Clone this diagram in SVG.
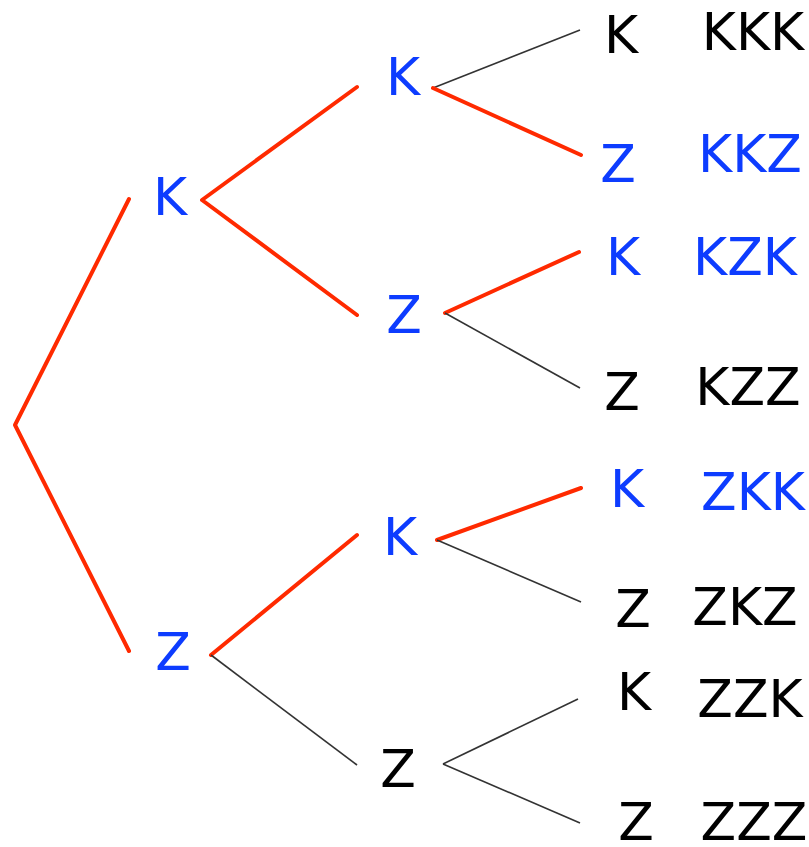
<svg xmlns="http://www.w3.org/2000/svg" width="809" height="847" viewBox="0 0 809 847">
<style>
text{font-family:"DejaVu Sans",Verdana,sans-serif;font-size:52px;text-anchor:middle}
.b{fill:#0d3cff}.k{fill:#000}
.r{stroke:#ff2a00;stroke-width:4;fill:none;stroke-linecap:round;stroke-linejoin:round}
.g{stroke:#333;stroke-width:1.6;fill:none}
</style>
<rect width="809" height="847" fill="#fff"/>
<g id="connectors">
<polyline class="r" points="129,199 15,425 129,651"/>
<polyline class="r" points="357,87 202,200 357,315"/>
<line class="g" x1="433" y1="88" x2="580" y2="30"/>
<line class="r" x1="433" y1="88" x2="581" y2="155"/>
<line class="r" x1="445" y1="313" x2="579" y2="252"/>
<line class="g" x1="445" y1="313" x2="580" y2="388"/>
<line class="r" x1="211" y1="655" x2="357" y2="535"/>
<line class="g" x1="211" y1="655" x2="357" y2="765"/>
<line class="r" x1="437" y1="540" x2="581" y2="488"/>
<line class="g" x1="437" y1="540" x2="581" y2="602"/>
<line class="g" x1="443" y1="764" x2="578" y2="699"/>
<line class="g" x1="443" y1="764" x2="580" y2="823"/>
</g>
<g id="n-K"><text class="b" x="170" y="215">K</text></g>
<g id="n-Z"><text class="b" x="173" y="670">Z</text></g>
<g id="n-KK"><text class="b" x="403" y="95">K</text></g>
<g id="n-KZ"><text class="b" x="404" y="333">Z</text></g>
<g id="n-ZK"><text class="b" x="400" y="555">K</text></g>
<g id="n-ZZ"><text class="k" x="398" y="787">Z</text></g>
<g id="n-KKK"><text class="k" x="621" y="53">K</text><text class="k" x="753" y="50">KKK</text></g>
<g id="n-KKZ"><text class="b" x="618" y="182">Z</text><text class="b" x="750" y="172">KKZ</text></g>
<g id="n-KZK"><text class="b" x="623" y="275">K</text><text class="b" x="745" y="275">KZK</text></g>
<g id="n-KZZ"><text class="k" x="622" y="410">Z</text><text class="k" x="748" y="405">KZZ</text></g>
<g id="n-ZKK"><text class="b" x="627" y="507">K</text><text class="b" x="753" y="510">ZKK</text></g>
<g id="n-ZKZ"><text class="k" x="633" y="627">Z</text><text class="k" x="745" y="625">ZKZ</text></g>
<g id="n-ZZK"><text class="k" x="634" y="710">K</text><text class="k" x="750" y="717">ZZK</text></g>
<g id="n-ZZZ"><text class="k" x="636" y="840">Z</text><text class="k" x="754" y="840">ZZZ</text></g>
</svg>
